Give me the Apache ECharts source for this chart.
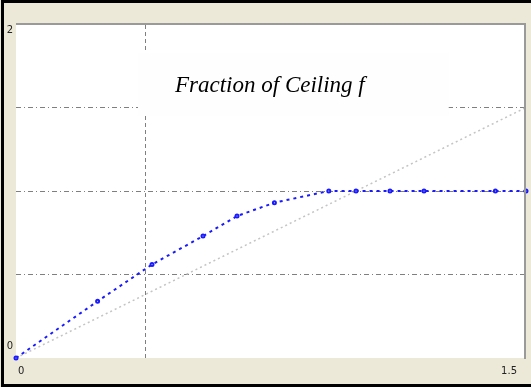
<!DOCTYPE html>
<html>
<head>
<meta charset="utf-8">
<script src="https://cdn.jsdelivr.net/npm/echarts@6/dist/echarts.min.js"></script>
<style>
  html, body { margin: 0; padding: 0; background: #ece9d8; }
  #main { width: 531px; height: 387px; }
</style>
</head>
<body>
<div id="main"></div>
<script>
// fraction of ceiling
const xValues = [0, 0.24, 0.40, 0.55, 0.65, 0.76, 0.92, 1.0, 1.1, 1.2, 1.41, 1.5];
const fValues = [0, 0.34, 0.56, 0.73, 0.85, 0.93, 1.0, 1.0, 1.0, 1.0, 1.0, 1.0];
// reference line y = x
const refX = [0, 1.5];
const refY = [0, 1.5];
// single vertical grid line
const gridX = [0.375];
const xTickLabels = ["0", "1.5"];
const yTickLabels = ["0", "2"];
const titleText = "Fraction of Ceiling f";

const chart = echarts.init(document.getElementById("main"));

const dashDot = [5, 3, 1, 3];

chart.setOption({
  backgroundColor: "#ece9d8",
  animation: false,
  title: {
    text: titleText,
    left: 138,
    top: 53,
    padding: [21, 84, 19, 37],
    backgroundColor: "#fefefe",
    textStyle: {
      fontFamily: "Liberation Serif",
      fontStyle: "italic",
      fontWeight: "normal",
      fontSize: 23,
      color: "#000000",
    },
    z: 10,
  },
  grid: {
    left: 16,
    right: 5,
    top: 24,
    bottom: 29,
    show: true,
    backgroundColor: "#ffffff",
    borderWidth: 0,
  },
  xAxis: {
    type: "value",
    min: 0,
    max: 1.5,
    interval: 0.375,
    axisLine: { show: false },
    axisTick: { show: false },
    splitLine: { show: false },
    axisLabel: {
      margin: 8,
      color: "#222",
      fontFamily: "DejaVu Sans",
      fontSize: 10,
      alignMinLabel: "left",
      alignMaxLabel: "right",
      formatter: function (v) {
        if (v === 0) return "{a|" + xTickLabels[0] + "}";
        if (v === 1.5) return "{b|" + xTickLabels[1] + "}";
        return "";
      },
      rich: {
        a: { padding: [0, 0, 0, 2], fontSize: 10, color: "#222" },
        b: { padding: [0, 9, 0, 0], fontSize: 10, color: "#222" },
      },
    },
  },
  yAxis: {
    type: "value",
    min: 0,
    max: 2,
    interval: 0.5,
    axisLine: { show: false },
    axisTick: { show: false },
    splitLine: {
      show: true,
      showMinLine: false,
      showMaxLine: false,
      lineStyle: { color: "#7f7f7f", width: 1, type: dashDot },
    },
    axisLabel: {
      margin: 3,
      color: "#222",
      fontFamily: "DejaVu Sans",
      fontSize: 10,
      formatter: function (v) {
        if (v === 0) return "{b|" + yTickLabels[0] + "}";
        if (v === 2) return "{t|" + yTickLabels[1] + "}";
        return "";
      },
      rich: {
        t: { padding: [12, 0, 0, 0], fontSize: 10, color: "#222" },
        b: { padding: [0, 0, 24, 0], fontSize: 10, color: "#222" },
      },
    },
  },
  series: [
    {
      name: "y = x",
      type: "line",
      data: refX.map((x, i) => [x, refY[i]]),
      symbol: "none",
      lineStyle: { color: "#c4c4c4", width: 1.5, type: [2, 3] },
      markLine: {
        silent: true,
        symbol: "none",
        label: { show: false },
        lineStyle: { color: "#7f7f7f", width: 1, type: [4, 3] },
        data: gridX.map((x) => ({ xAxis: x })),
      },
      z: 2,
    },
    {
      name: "Fraction of Ceiling f",
      type: "line",
      data: xValues.map((x, i) => [x, fValues[i]]),
      symbol: "emptyCircle",
      symbolSize: 3,
      itemStyle: { color: "#1a1aff", borderColor: "#1a1aff", borderWidth: 1.2 },
      lineStyle: { color: "#1a1aff", width: 2, type: [3, 4] },
      z: 3,
    },
  ],
  graphic: [
    // black window frame
    { type: "rect", left: 1, top: 0, shape: { width: 530, height: 3 }, style: { fill: "#000" }, z: 100 },
    { type: "rect", left: 1, top: 0, shape: { width: 3, height: 387 }, style: { fill: "#000" }, z: 100 },
    { type: "rect", left: 1, top: 384, shape: { width: 530, height: 3 }, style: { fill: "#000" }, z: 100 },
    // grey border of plot panel
    { type: "rect", left: 16, top: 23, shape: { width: 510, height: 2 }, style: { fill: "#9a9a9a" }, z: 100 },
    { type: "rect", left: 524, top: 23, shape: { width: 2, height: 336 }, style: { fill: "#9a9a9a" }, z: 100 },
  ],
});
</script>
</body>
</html>
